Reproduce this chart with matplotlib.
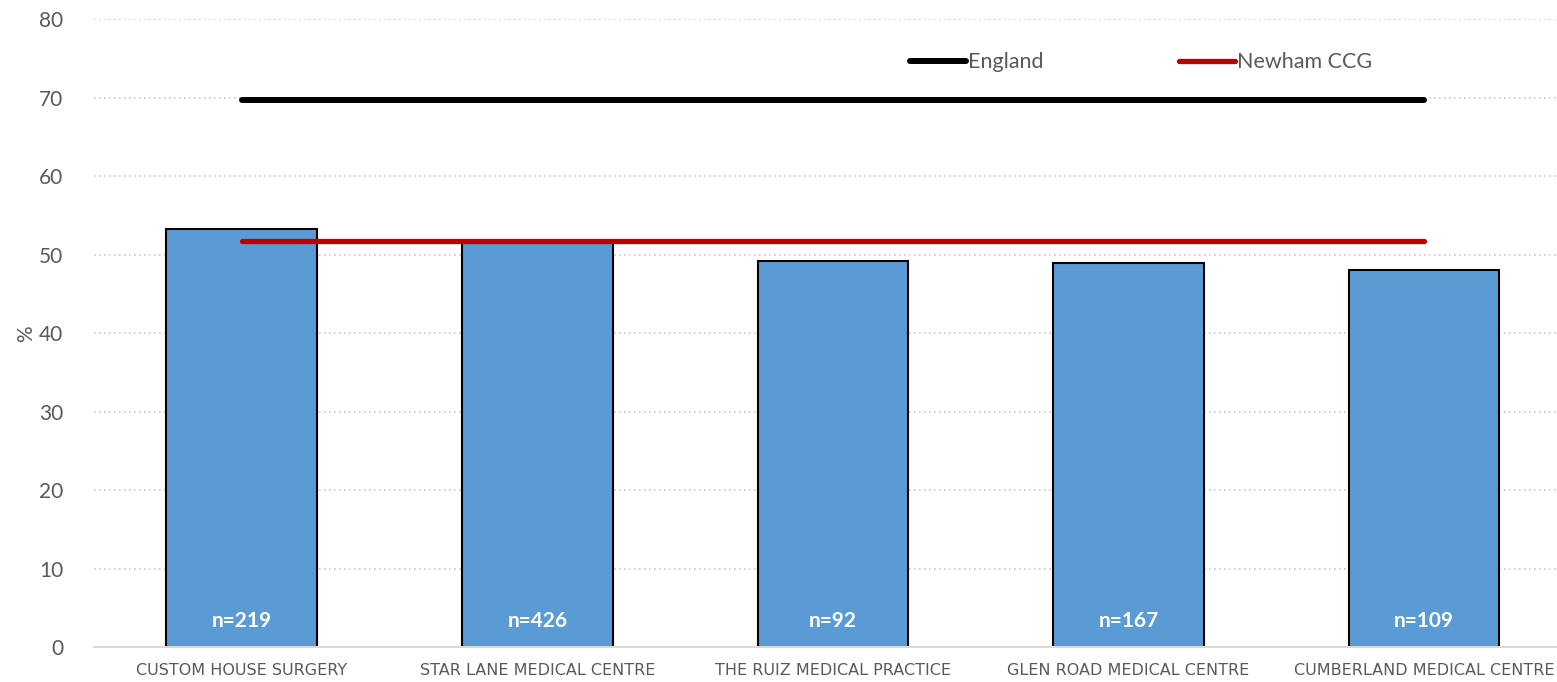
import matplotlib.pyplot as plt
import numpy as np

practices = ['CUSTOM HOUSE SURGERY', 'STAR LANE MEDICAL CENTRE', 'THE RUIZ MEDICAL PRACTICE',
             'GLEN ROAD MEDICAL CENTRE', 'CUMBERLAND MEDICAL CENTRE']
values = [53.3, 51.5, 49.2, 48.9, 48.1]
n_labels = ['n=219', 'n=426', 'n=92', 'n=167', 'n=109']
england = [69.7] * 5
newham = [51.7] * 5
yticks = [0, 10, 20, 30, 40, 50, 60, 70, 80]

grey = '#595959'
fig = plt.figure(figsize=(15.57, 6.82), dpi=100)
ax = fig.add_axes([0.0604, 0.0506, 0.9396, 0.9215])

x = np.arange(len(practices))
ax.bar(x, values, width=0.51, color='#5B9BD5', edgecolor='black', linewidth=1.5, zorder=2)
ax.plot(x, england, color='black', linewidth=4.3, solid_capstyle='round', zorder=3, label='England')
ax.plot(x, newham, color='#C00000', linewidth=3.8, solid_capstyle='round', zorder=3, label='Newham CCG')

for xi, lab in zip(x, n_labels):
    ax.text(xi, 3.4, lab, ha='center', va='center', color='white', fontsize=15,
            fontweight='bold', family='Lato', zorder=4)

ax.set_xlim(-0.5, 4.45)
ax.set_ylim(0, 80)
ax.set_yticks(yticks)
ax.set_xticks(x)
ax.set_xticklabels(practices, family='Liberation Sans Narrow', fontsize=11.5, color=grey)
ax.tick_params(axis='x', length=0, pad=11)
ax.tick_params(axis='y', length=0, pad=22, labelsize=15, labelcolor=grey)
for lab in ax.get_yticklabels():
    lab.set_family('Lato')
ax.yaxis.grid(True, color='#C8C8C8', linestyle=(0, (1, 2)), linewidth=1.2, zorder=0)
ax.set_axisbelow(True)
for s in ['top', 'right', 'left']:
    ax.spines[s].set_visible(False)
ax.spines['bottom'].set_color('#D9D9D9')
ax.spines['bottom'].set_linewidth(1.5)
ax.set_ylabel('%', fontsize=15, color=grey, family='Lato', labelpad=2)

leg = ax.legend(loc='upper left', bbox_to_anchor=(0.5445, 0.978), ncol=2, frameon=False,
                prop={'family': 'Lato', 'size': 15.5}, handlelength=2.6, handletextpad=0.1,
                columnspacing=6.3)
for t in leg.get_texts():
    t.set_color(grey)

fig.savefig('out.png', dpi=100)
